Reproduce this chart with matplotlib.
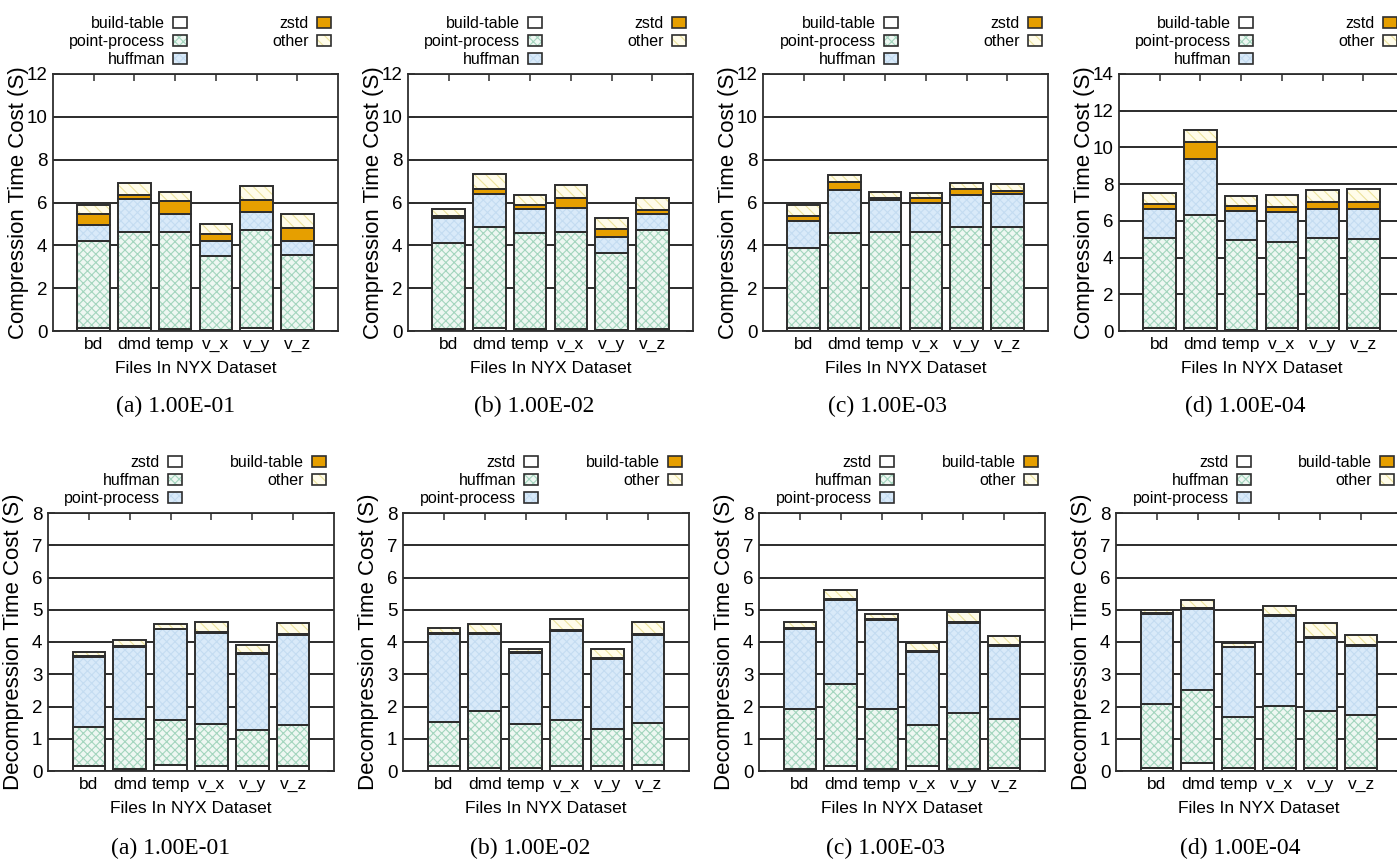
import numpy as np
import matplotlib
matplotlib.use('Agg')
import matplotlib.pyplot as plt
from matplotlib.patches import Patch
from matplotlib.legend_handler import HandlerTuple

# ---------------- data ----------------
files = ['bd', 'dmd', 'temp', 'v_x', 'v_y', 'v_z']
captions = ['(a) 1.00E-01', '(b) 1.00E-02', '(c) 1.00E-03', '(d) 1.00E-04']

comp_parts = ['build-table', 'point-process', 'huffman', 'zstd', 'other']
decomp_parts = ['zstd', 'huffman', 'point-process', 'build-table', 'other']

# cumulative stack tops (seconds), one list per part, bottom -> top
comp_1e1 = [[0.12, 0.12, 0.10, 0.06, 0.12, 0.06],
            [4.22, 4.64, 4.61, 3.49, 4.72, 3.53],
            [4.95, 6.16, 5.48, 4.22, 5.56, 4.22],
            [5.48, 6.35, 6.05, 4.51, 6.12, 4.79],
            [5.90, 6.93, 6.47, 4.98, 6.75, 5.45]]
comp_1e2 = [[0.08, 0.12, 0.10, 0.10, 0.06, 0.10],
            [4.09, 4.84, 4.56, 4.62, 3.64, 4.70],
            [5.26, 6.40, 5.71, 5.76, 4.39, 5.48],
            [5.39, 6.63, 5.90, 6.23, 4.75, 5.65],
            [5.71, 7.33, 6.35, 6.80, 5.26, 6.23]]
comp_1e3 = [[0.12, 0.12, 0.12, 0.12, 0.12, 0.12],
            [3.88, 4.56, 4.64, 4.62, 4.84, 4.84],
            [5.14, 6.60, 6.10, 5.99, 6.33, 6.38],
            [5.39, 6.97, 6.23, 6.21, 6.61, 6.55],
            [5.88, 7.27, 6.51, 6.43, 6.93, 6.88]]
comp_1e4 = [[0.15, 0.15, 0.07, 0.15, 0.15, 0.15],
            [5.07, 6.34, 4.96, 4.85, 5.07, 5.01],
            [6.65, 9.39, 6.52, 6.46, 6.65, 6.65],
            [6.94, 10.28, 6.79, 6.74, 7.01, 7.01],
            [7.50, 10.95, 7.34, 7.41, 7.66, 7.74]]

decomp_1e1 = [[0.14, 0.06, 0.20, 0.14, 0.14, 0.14],
              [1.36, 1.62, 1.59, 1.47, 1.28, 1.43],
              [3.55, 3.85, 4.39, 4.28, 3.63, 4.23],
              [3.58, 3.88, 4.41, 4.30, 3.66, 4.26],
              [3.68, 4.06, 4.56, 4.62, 3.92, 4.58]]
decomp_1e2 = [[0.14, 0.10, 0.10, 0.14, 0.14, 0.20],
              [1.51, 1.85, 1.46, 1.58, 1.31, 1.50],
              [4.26, 4.24, 3.66, 4.34, 3.48, 4.23],
              [4.29, 4.27, 3.69, 4.37, 3.51, 4.26],
              [4.44, 4.56, 3.79, 4.70, 3.79, 4.62]]
decomp_1e3 = [[0.06, 0.15, 0.06, 0.14, 0.06, 0.10],
              [1.93, 2.71, 1.93, 1.42, 1.81, 1.62],
              [4.39, 5.29, 4.67, 3.70, 4.58, 3.89],
              [4.42, 5.32, 4.70, 3.73, 4.61, 3.92],
              [4.62, 5.61, 4.86, 3.97, 4.93, 4.20]]
decomp_1e4 = [[0.10, 0.24, 0.10, 0.10, 0.10, 0.10],
              [2.08, 2.50, 1.66, 2.02, 1.85, 1.73],
              [4.86, 5.01, 3.83, 4.81, 4.12, 3.89],
              [4.89, 5.04, 3.86, 4.84, 4.15, 3.92],
              [4.99, 5.30, 3.97, 5.13, 4.58, 4.21]]

comp_ymax = [12, 12, 12, 14]
decomp_ymax = [8, 8, 8, 8]

# ---------------- style ----------------
W, H = 1397, 864
plt.rcParams['font.family'] = ['Liberation Sans', 'DejaVu Sans']
plt.rcParams['hatch.linewidth'] = 0.8

EDGE = '#2e2e2e'
styles = [
    dict(face='white', hatch=None, hcol='white'),
    dict(face='#eef7f2', hatch='xxxx', hcol='#a3d5be'),
    dict(face='#d9eaf9', hatch='xxxx', hcol='#c4dcf1'),
    dict(face='#e69f00', hatch=None, hcol='#e69f00'),
    dict(face='#fffcea', hatch='\\\\\\', hcol='#ece39c'),
]

fig = plt.figure(figsize=(W / 100, H / 100), dpi=100)


def px_axes(left, top, right, bottom):
    return fig.add_axes([left / W, 1 - bottom / H, (right - left) / W, (bottom - top) / H])


def draw_panel(ax, tops, ymax, ystep, ylabel):
    x = np.arange(len(files))
    prev = np.zeros(len(files))
    for k, row in enumerate(tops):
        top = np.array(row)
        st = styles[k]
        ax.bar(x, top - prev, bottom=prev, width=0.8, color=st['face'],
               edgecolor=st['hcol'], hatch=st['hatch'], linewidth=0, zorder=2)
        ax.bar(x, top - prev, bottom=prev, width=0.8, facecolor='none',
               edgecolor=EDGE, linewidth=1.4, zorder=3)
        prev = top
    ax.set_xlim(-1, 6)
    ax.set_ylim(0, ymax)
    ax.set_xticks(x)
    ax.set_xticklabels(files, fontsize=12.5)
    yt = np.arange(0, ymax + 0.01, ystep)
    ax.set_yticks(yt)
    ax.set_yticklabels([f'{int(v)}' for v in yt], fontsize=13.5)
    ax.yaxis.grid(True, color='#1a1a1a', linewidth=1.3, zorder=0)
    ax.set_axisbelow(True)
    for sp in ax.spines.values():
        sp.set_color(EDGE)
        sp.set_linewidth(1.3)
    ax.tick_params(axis='x', direction='in', top=True, bottom=True, length=5, width=1.1,
                   color=EDGE, pad=4)
    ax.tick_params(axis='y', direction='in', left=True, right=True, length=5, width=1.1,
                   color=EDGE, pad=4)
    ax.set_xlabel('Files In NYX Dataset', fontsize=12.5, labelpad=7)
    ax.set_ylabel(ylabel, fontsize=16)
    ax.yaxis.set_label_coords(-24 / 285, 0.5)


def handle(k):
    st = styles[k]
    return (Patch(facecolor=st['face'], edgecolor=st['hcol'], hatch=st['hatch'], linewidth=0),
            Patch(facecolor='none', edgecolor=EDGE, linewidth=1.2))


def add_legends(parts, x1, x2, ytop):
    common = dict(loc='upper right', bbox_transform=fig.transFigure, frameon=False,
                  markerfirst=False, handlelength=0.88, handleheight=0.62, handletextpad=0.5,
                  labelspacing=0.19, borderpad=0, borderaxespad=0, fontsize=11.5,
                  handler_map={tuple: HandlerTuple(ndivide=1, pad=0)})
    fig.legend([handle(k) for k in range(3)], parts[:3],
               bbox_to_anchor=(x1 / W, 1 - ytop / H), **common)
    fig.legend([handle(k) for k in range(3, 5)], parts[3:],
               bbox_to_anchor=(x2 / W, 1 - ytop / H), **common)


comp_all = [comp_1e1, comp_1e2, comp_1e3, comp_1e4]
decomp_all = [decomp_1e1, decomp_1e2, decomp_1e3, decomp_1e4]

top_lefts = [53, 408, 763, 1119]
bot_lefts = [48, 403, 759, 1116]
top_leg = [(187, 331), (542, 686), (898, 1042), (1253, 1397)]
bot_leg = [(182, 326), (538, 682), (894, 1038), (1251, 1394)]
top_cap = [176, 534, 887, 1245]
bot_cap = [171, 530, 885, 1240]

for i in range(4):
    ax = px_axes(top_lefts[i], 74, top_lefts[i] + 285, 331)
    draw_panel(ax, comp_all[i], comp_ymax[i], 2, 'Compression Time Cost (S)')
    add_legends(comp_parts, top_leg[i][0], top_leg[i][1], 16)
    fig.text(top_cap[i] / W, 1 - 406 / H, captions[i], ha='center', va='center',
             fontsize=17, family=['Liberation Serif', 'DejaVu Serif'])

    ax = px_axes(bot_lefts[i], 513, bot_lefts[i] + 286, 771)
    draw_panel(ax, decomp_all[i], decomp_ymax[i], 1, 'Decompression Time Cost (S)')
    add_legends(decomp_parts, bot_leg[i][0], bot_leg[i][1], 455)
    fig.text(bot_cap[i] / W, 1 - 848 / H, captions[i], ha='center', va='center',
             fontsize=17, family=['Liberation Serif', 'DejaVu Serif'])

fig.savefig('out.png', dpi=100)
